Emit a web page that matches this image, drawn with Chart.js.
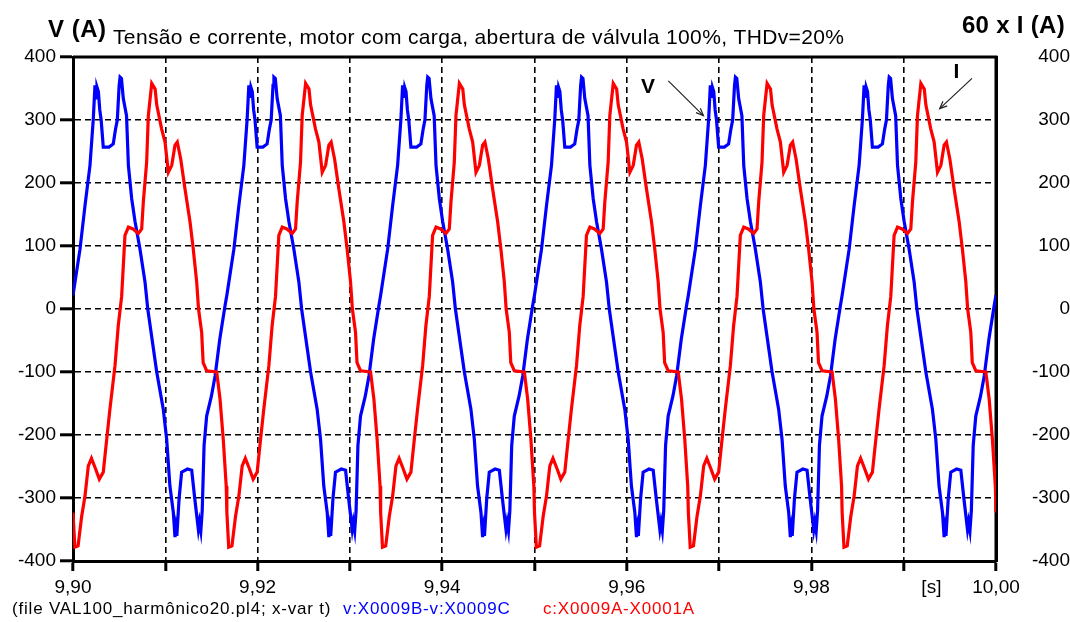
<!DOCTYPE html>
<html>
<head>
<meta charset="utf-8">
<script src="https://cdn.jsdelivr.net/npm/chart.js@4/dist/chart.umd.min.js"></script>
<style>
  html, body { margin: 0; padding: 0; background: #fff; }
  #c { display: block; }
</style>
</head>
<body>
<canvas id="c" width="1070" height="622"></canvas>
<script>
// Time axis: milliseconds after t = 9,90 s
const xTickValues = [0, 10, 20, 30, 40, 50, 60, 70, 80, 90, 100];
const xTickLabels = ['9,90', '', '9,92', '', '9,94', '', '9,96', '', '9,98', '', '10,00'];
const yTickValues = [-400, -300, -200, -100, 0, 100, 200, 300, 400];
const yTickLabels = ['-400', '-300', '-200', '-100', '0', '100', '200', '300', '400'];

// Voltage V (blue)
const vTime = [
  0.00,0.76,1.30,1.84,2.20,2.38,2.50,2.60,2.75,2.90,3.05,3.28,3.90,4.36,4.60,4.80,5.00,5.10,5.25,5.45,5.80,6.00,6.36,6.72,7.26,7.80,8.10,9.07,9.78,10.15,10.50,10.87,11.05,11.15,11.25,11.50,11.77,12.40,12.86,13.20,13.58,13.70,13.85,14.00,14.20,14.48,15.00,15.40,15.90,16.47,
  16.67,17.43,17.97,18.51,18.87,19.05,19.17,19.27,19.42,19.57,19.72,19.95,20.57,21.03,21.27,21.47,21.67,21.77,21.92,22.12,22.47,22.67,23.03,23.39,23.93,24.47,24.77,25.74,26.45,26.82,27.17,27.54,27.72,27.82,27.92,28.17,28.44,29.07,29.53,29.87,30.25,30.37,30.52,30.67,30.87,31.15,31.67,32.07,32.57,33.14,
  33.33,34.09,34.63,35.17,35.53,35.71,35.83,35.93,36.08,36.23,36.38,36.61,37.23,37.69,37.93,38.13,38.33,38.43,38.58,38.78,39.13,39.33,39.69,40.05,40.59,41.13,41.43,42.40,43.11,43.48,43.83,44.20,44.38,44.48,44.58,44.83,45.10,45.73,46.19,46.53,46.91,47.03,47.18,47.33,47.53,47.81,48.33,48.73,49.23,49.80,
  50.00,50.76,51.30,51.84,52.20,52.38,52.50,52.60,52.75,52.90,53.05,53.28,53.90,54.36,54.60,54.80,55.00,55.10,55.25,55.45,55.80,56.00,56.36,56.72,57.26,57.80,58.10,59.07,59.78,60.15,60.50,60.87,61.05,61.15,61.25,61.50,61.77,62.40,62.86,63.20,63.58,63.70,63.85,64.00,64.20,64.48,65.00,65.40,65.90,66.47,
  66.67,67.43,67.97,68.51,68.87,69.05,69.17,69.27,69.42,69.57,69.72,69.95,70.57,71.03,71.27,71.47,71.67,71.77,71.92,72.12,72.47,72.67,73.03,73.39,73.93,74.47,74.77,75.74,76.45,76.82,77.17,77.54,77.72,77.82,77.92,78.17,78.44,79.07,79.53,79.87,80.25,80.37,80.52,80.67,80.87,81.15,81.67,82.07,82.57,83.14,
  83.33,84.09,84.63,85.17,85.53,85.71,85.83,85.93,86.08,86.23,86.38,86.61,87.23,87.69,87.93,88.13,88.33,88.43,88.58,88.78,89.13,89.33,89.69,90.05,90.59,91.13,91.43,92.40,93.11,93.48,93.83,94.20,94.38,94.48,94.58,94.83,95.10,95.73,96.19,96.53,96.91,97.03,97.18,97.33,97.53,97.81,98.33,98.73,99.23,99.80,
  100.00
];
const vValue = [
  22,95,164,228,302,355,335,352,345,316,300,257,257,262,285,300,355,368,366,334,307,228,175,139,95,43,0,-100,-159,-207,-281,-323,-362,-348,-360,-300,-259,-254,-256,-302,-350,-338,-352,-320,-217,-170,-138,-106,-48,5,
  22,95,164,228,302,355,335,352,345,316,300,257,257,262,285,300,355,368,366,334,307,228,175,139,95,43,0,-100,-159,-207,-281,-323,-362,-348,-360,-300,-259,-254,-256,-302,-350,-338,-352,-320,-217,-170,-138,-106,-48,5,
  22,95,164,228,302,355,335,352,345,316,300,257,257,262,285,300,355,368,366,334,307,228,175,139,95,43,0,-100,-159,-207,-281,-323,-362,-348,-360,-300,-259,-254,-256,-302,-350,-338,-352,-320,-217,-170,-138,-106,-48,5,
  22,95,164,228,302,355,335,352,345,316,300,257,257,262,285,300,355,368,366,334,307,228,175,139,95,43,0,-100,-159,-207,-281,-323,-362,-348,-360,-300,-259,-254,-256,-302,-350,-338,-352,-320,-217,-170,-138,-106,-48,5,
  22,95,164,228,302,355,335,352,345,316,300,257,257,262,285,300,355,368,366,334,307,228,175,139,95,43,0,-100,-159,-207,-281,-323,-362,-348,-360,-300,-259,-254,-256,-302,-350,-338,-352,-320,-217,-170,-138,-106,-48,5,
  22,95,164,228,302,355,335,352,345,316,300,257,257,262,285,300,355,368,366,334,307,228,175,139,95,43,0,-100,-159,-207,-281,-323,-362,-348,-360,-300,-259,-254,-256,-302,-350,-338,-352,-320,-217,-170,-138,-106,-48,5,
  22
];

// Current 60 x I (red)
const iTime = [
  0.00,0.20,0.55,0.94,1.30,1.66,2.00,2.40,2.85,3.28,3.65,4.00,4.55,4.90,5.27,5.63,6.00,6.50,7.08,7.44,7.62,7.98,8.16,8.53,8.90,9.07,9.60,9.97,10.33,10.70,11.05,11.30,11.67,12.13,12.68,13.03,13.40,13.60,13.94,14.10,14.48,15.57,15.93,16.28,16.60,
  16.67,16.87,17.22,17.61,17.97,18.33,18.67,19.07,19.52,19.95,20.32,20.67,21.22,21.57,21.94,22.30,22.67,23.17,23.75,24.11,24.29,24.65,24.83,25.20,25.57,25.74,26.27,26.64,27.00,27.37,27.72,27.97,28.34,28.80,29.35,29.70,30.07,30.27,30.61,30.77,31.15,32.24,32.60,32.95,33.27,
  33.33,33.53,33.88,34.27,34.63,34.99,35.33,35.73,36.18,36.61,36.98,37.33,37.88,38.23,38.60,38.96,39.33,39.83,40.41,40.77,40.95,41.31,41.49,41.86,42.23,42.40,42.93,43.30,43.66,44.03,44.38,44.63,45.00,45.46,46.01,46.36,46.73,46.93,47.27,47.43,47.81,48.90,49.26,49.61,49.93,
  50.00,50.20,50.55,50.94,51.30,51.66,52.00,52.40,52.85,53.28,53.65,54.00,54.55,54.90,55.27,55.63,56.00,56.50,57.08,57.44,57.62,57.98,58.16,58.53,58.90,59.07,59.60,59.97,60.33,60.70,61.05,61.30,61.67,62.13,62.68,63.03,63.40,63.60,63.94,64.10,64.48,65.57,65.93,66.28,66.60,
  66.67,66.87,67.22,67.61,67.97,68.33,68.67,69.07,69.52,69.95,70.32,70.67,71.22,71.57,71.94,72.30,72.67,73.17,73.75,74.11,74.29,74.65,74.83,75.20,75.57,75.74,76.27,76.64,77.00,77.37,77.72,77.97,78.34,78.80,79.35,79.70,80.07,80.27,80.61,80.77,81.15,82.24,82.60,82.95,83.27,
  83.33,83.53,83.88,84.27,84.63,84.99,85.33,85.73,86.18,86.61,86.98,87.33,87.88,88.23,88.60,88.96,89.33,89.83,90.41,90.77,90.95,91.31,91.49,91.86,92.23,92.40,92.93,93.30,93.66,94.03,94.38,94.63,95.00,95.46,96.01,96.36,96.73,96.93,97.27,97.43,97.81,98.90,99.26,99.61,99.93,
  100.00
];
const iValue = [
  -323,-378,-376,-329,-297,-249,-237,-252,-270,-259,-207,-159,-90,-27,20,117,130,127,120,127,170,233,307,358,349,324,286,265,217,228,260,265,238,191,138,95,43,0,-37,-85,-98,-100,-143,-207,-281,
  -323,-378,-376,-329,-297,-249,-237,-252,-270,-259,-207,-159,-90,-27,20,117,130,127,120,127,170,233,307,358,349,324,286,265,217,228,260,265,238,191,138,95,43,0,-37,-85,-98,-100,-143,-207,-281,
  -323,-378,-376,-329,-297,-249,-237,-252,-270,-259,-207,-159,-90,-27,20,117,130,127,120,127,170,233,307,358,349,324,286,265,217,228,260,265,238,191,138,95,43,0,-37,-85,-98,-100,-143,-207,-281,
  -323,-378,-376,-329,-297,-249,-237,-252,-270,-259,-207,-159,-90,-27,20,117,130,127,120,127,170,233,307,358,349,324,286,265,217,228,260,265,238,191,138,95,43,0,-37,-85,-98,-100,-143,-207,-281,
  -323,-378,-376,-329,-297,-249,-237,-252,-270,-259,-207,-159,-90,-27,20,117,130,127,120,127,170,233,307,358,349,324,286,265,217,228,260,265,238,191,138,95,43,0,-37,-85,-98,-100,-143,-207,-281,
  -323,-378,-376,-329,-297,-249,-237,-252,-270,-259,-207,-159,-90,-27,20,117,130,127,120,127,170,233,307,358,349,324,286,265,217,228,260,265,238,191,138,95,43,0,-37,-85,-98,-100,-143,-207,-281,
  -323
];

// Annotation anchors (data units)
const vLabelPos = { x: 62.3, y: 352 };
const vArrow = { x1: 64.5, y1: 362, x2: 68.3, y2: 307 };
const iLabelPos = { x: 95.7, y: 376 };
const iArrow = { x1: 97.4, y1: 366, x2: 93.9, y2: 318 };
const sLabelX = 93.0;

const FONT = '"Liberation Sans", Arial, sans-serif';

function pts(xs, ys) { return xs.map((x, i) => ({ x: x, y: ys[i] })); }

const decor = {
  id: 'decor',
  beforeDraw(chart) {
    const ctx = chart.ctx;
    ctx.save();
    ctx.fillStyle = '#fff';
    ctx.fillRect(0, 0, chart.width, chart.height);
    ctx.restore();
  },
  beforeDatasetsDraw(chart) {
    const { ctx, chartArea: a } = chart;
    ctx.save();
    ctx.strokeStyle = '#000';
    ctx.lineWidth = 3;
    ctx.beginPath();
    ctx.moveTo(a.left, a.top);
    ctx.lineTo(a.right, a.top);
    ctx.lineTo(a.right, a.bottom);
    ctx.stroke();
    ctx.restore();
  },
  afterDraw(chart) {
    const { ctx } = chart;
    const xs = chart.scales.x, ys = chart.scales.y;
    ctx.save();
    ctx.fillStyle = '#000';
    ctx.textBaseline = 'alphabetic';
    // titles
    ctx.font = 'bold 24px ' + FONT;
    ctx.textAlign = 'left';
    ctx.letterSpacing = '0.5px';
    ctx.fillText('V (A)', 48, 37);
    ctx.font = '21px ' + FONT;
    ctx.letterSpacing = '0.35px';
    ctx.fillText('Tensão e corrente, motor com carga, abertura de válvula 100%, THDv=20%', 113, 44);
    ctx.font = 'bold 24px ' + FONT;
    ctx.letterSpacing = '0.3px';
    ctx.textAlign = 'right';
    ctx.fillText('60 x I (A)', 1065, 33);
    ctx.letterSpacing = '0px';
    // [s]
    ctx.font = '19px ' + FONT;
    ctx.textAlign = 'center';
    ctx.fillText('[s]', xs.getPixelForValue(sLabelX), 593);
    // footer
    ctx.font = '17px ' + FONT;
    ctx.textAlign = 'left';
    ctx.letterSpacing = '0.8px';
    ctx.fillStyle = '#000';
    ctx.fillText('(file VAL100_harmônico20.pl4; x-var t)', 12, 614);
    ctx.fillStyle = '#0000ff';
    ctx.fillText('v:X0009B-v:X0009C', 343, 614);
    ctx.fillStyle = '#ff0000';
    ctx.fillText('c:X0009A-X0001A', 543, 614);
    ctx.letterSpacing = '0px';
    // V / I annotations
    ctx.fillStyle = '#000';
    ctx.font = 'bold 21px ' + FONT;
    ctx.textAlign = 'center';
    ctx.textBaseline = 'middle';
    ctx.fillText('V', xs.getPixelForValue(vLabelPos.x), ys.getPixelForValue(vLabelPos.y));
    ctx.fillText('I', xs.getPixelForValue(iLabelPos.x), ys.getPixelForValue(iLabelPos.y));
    function arrow(ar) {
      const x1 = xs.getPixelForValue(ar.x1), y1 = ys.getPixelForValue(ar.y1);
      const x2 = xs.getPixelForValue(ar.x2), y2 = ys.getPixelForValue(ar.y2);
      ctx.strokeStyle = '#222';
      ctx.lineWidth = 1.2;
      ctx.beginPath();
      ctx.moveTo(x1, y1);
      ctx.lineTo(x2, y2);
      ctx.stroke();
      const ang = Math.atan2(y2 - y1, x2 - x1);
      const L = 8, W = 0.4;
      ctx.beginPath();
      ctx.moveTo(x2 - L * Math.cos(ang - W), y2 - L * Math.sin(ang - W));
      ctx.lineTo(x2, y2);
      ctx.lineTo(x2 - L * Math.cos(ang + W), y2 - L * Math.sin(ang + W));
      ctx.stroke();
    }
    arrow(vArrow);
    arrow(iArrow);
    ctx.restore();
  }
};

const tickFont = { family: FONT, size: 19 };

new Chart(document.getElementById('c'), {
  type: 'line',
  data: {
    datasets: [
      {
        label: 'v:X0009B-v:X0009C',
        data: pts(vTime, vValue),
        borderColor: '#0000ff',
        borderWidth: 3.2,
        pointRadius: 0,
        tension: 0,
        fill: false,
        order: 1,
        yAxisID: 'y'
      },
      {
        label: 'c:X0009A-X0001A',
        data: pts(iTime, iValue),
        borderColor: '#ff0000',
        borderWidth: 3.2,
        pointRadius: 0,
        tension: 0,
        fill: false,
        order: 0,
        yAxisID: 'y'
      }
    ]
  },
  options: {
    responsive: false,
    animation: false,
    events: [],
    layout: { padding: { top: 57, left: 0, right: 0, bottom: 0 } },
    plugins: { legend: { display: false }, tooltip: { enabled: false }, title: { display: false } },
    scales: {
      x: {
        type: 'linear',
        position: 'bottom',
        min: 0,
        max: 100,
        afterBuildTicks: s => { s.ticks = xTickValues.map(v => ({ value: v })); },
        afterFit: s => { s.height = 61; },
        ticks: {
          callback: (v, i) => xTickLabels[i],
          autoSkip: false,
          maxRotation: 0,
          minRotation: 0,
          padding: 5,
          color: '#000',
          font: tickFont
        },
        grid: {
          color: '#000',
          lineWidth: 1.6,
          drawTicks: true,
          tickLength: 10,
          tickWidth: 3,
          tickColor: '#000',
          tickBorderDash: []
        },
        border: { display: true, color: '#000', width: 3, dash: [6, 4] }
      },
      y: {
        type: 'linear',
        position: 'left',
        min: -400,
        max: 400,
        afterBuildTicks: s => { s.ticks = yTickValues.map(v => ({ value: v })); },
        afterFit: s => { s.width = 73; },
        ticks: {
          callback: (v, i) => yTickLabels[i],
          autoSkip: false,
          padding: 4,
          color: '#000',
          font: tickFont
        },
        grid: {
          color: '#000',
          lineWidth: 1.6,
          drawTicks: true,
          tickLength: 13,
          tickWidth: 3,
          tickColor: '#000',
          tickBorderDash: []
        },
        border: { display: true, color: '#000', width: 3, dash: [6, 4] }
      },
      y2: {
        type: 'linear',
        position: 'right',
        min: -400,
        max: 400,
        afterBuildTicks: s => { s.ticks = yTickValues.map(v => ({ value: v })); },
        afterFit: s => { s.width = 74; },
        ticks: {
          callback: (v, i) => yTickLabels[i],
          autoSkip: false,
          crossAlign: 'far',
          padding: 11,
          color: '#000',
          font: tickFont
        },
        grid: { display: false, drawTicks: false, drawOnChartArea: false },
        border: { display: true, color: '#000', width: 3 }
      }
    }
  },
  plugins: [decor]
});
</script>
</body>
</html>
